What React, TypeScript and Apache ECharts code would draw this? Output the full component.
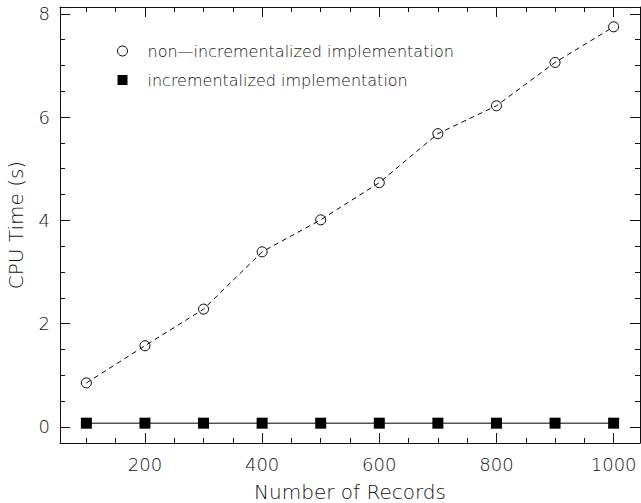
import { useEffect, useRef } from "react";
import * as echarts from "echarts";

// ---- data ----
const records = [100, 200, 300, 400, 500, 600, 700, 800, 900, 1000];
const nonIncremental = [0.85, 1.57, 2.28, 3.39, 4.01, 4.73, 5.68, 6.22, 7.06, 7.75];
const incremental = [0.07, 0.07, 0.07, 0.07, 0.07, 0.07, 0.07, 0.07, 0.07, 0.07];
const seriesNames = ["non—incrementalized implementation", "incrementalized implementation"];
const xMajorTicks = [200, 400, 600, 800, 1000];
const xMinorTicks = [100, 150, 250, 300, 350, 450, 500, 550, 650, 700, 750, 850, 900, 950];
const yMajorTicks = [0, 2, 4, 6, 8];
const yMinorTicks = [0.5, 1, 1.5, 2.5, 3, 3.5, 4.5, 5, 5.5, 6.5, 7, 7.5];
const xTitle = "Number of Records";
const yTitle = "CPU Time (s)";

const X_MIN = 55;
const X_MAX = 1045;
const Y_MIN = -0.314;
const Y_MAX = 8.134;

const FONT = "DejaVu Sans";
const WEIGHT = 200;
const TEXT = "#111";
const LINE = "#111";

export default function App() {
  const ref = useRef<HTMLDivElement>(null);

  useEffect(() => {
    if (!ref.current) return;
    const chart = echarts.init(ref.current, undefined, { renderer: "svg" });

    const xAxisBase = (position: "bottom" | "top", major: boolean, showLine: boolean, labels: boolean) => ({
      type: "value",
      position,
      min: X_MIN,
      max: X_MAX,
      splitLine: { show: false },
      axisLine: { show: showLine, onZero: false, lineStyle: { color: LINE, width: 1 } },
      axisTick: {
        show: true,
        inside: true,
        length: major ? 10 : 5,
        customValues: major ? xMajorTicks : xMinorTicks,
        lineStyle: { color: LINE, width: 1 },
      },
      axisLabel: labels
        ? {
            show: true,
            customValues: xMajorTicks,
            margin: 12,
            fontSize: 18,
            fontFamily: FONT,
            fontWeight: WEIGHT,
            color: TEXT,
            formatter: (v: number) => String(v),
          }
        : { show: false },
      ...(labels
        ? {
            name: xTitle,
            nameLocation: "middle",
            nameGap: 39,
            nameTextStyle: { fontSize: 20, fontFamily: FONT, fontWeight: WEIGHT, color: TEXT },
          }
        : {}),
    });

    const yAxisBase = (position: "left" | "right", major: boolean, showLine: boolean, labels: boolean) => ({
      type: "value",
      position,
      min: Y_MIN,
      max: Y_MAX,
      splitLine: { show: false },
      axisLine: { show: showLine, onZero: false, lineStyle: { color: LINE, width: 1 } },
      axisTick: {
        show: true,
        inside: true,
        length: major ? 10 : 5,
        customValues: major ? yMajorTicks : yMinorTicks,
        lineStyle: { color: LINE, width: 1 },
      },
      axisLabel: labels
        ? {
            show: true,
            customValues: yMajorTicks,
            margin: 10,
            fontSize: 18,
            fontFamily: FONT,
            fontWeight: WEIGHT,
            color: TEXT,
            formatter: (v: number) => String(v),
          }
        : { show: false },
      ...(labels
        ? {
            name: yTitle,
            nameLocation: "middle",
            nameGap: 34,
            nameTextStyle: { fontSize: 20, fontFamily: FONT, fontWeight: WEIGHT, color: TEXT },
          }
        : {}),
    });

    chart.setOption({
      animation: false,
      backgroundColor: "#fff",
      grid: { left: 60, top: 7, right: 1, bottom: 60, containLabel: false, outerBoundsMode: "none" },
      legend: {
        orient: "vertical",
        left: 112,
        top: 38,
        itemWidth: 10,
        itemHeight: 10,
        itemGap: 13,
        selectedMode: false,
        textStyle: {
          fontSize: 16,
          fontFamily: FONT,
          fontWeight: WEIGHT,
          color: TEXT,
          padding: [0, 0, 0, 15],
          lineHeight: 12,
        },
        data: [
          {
            name: seriesNames[0],
            icon: "circle",
            itemStyle: { color: "#fff", borderColor: "#000", borderWidth: 1 },
          },
          { name: seriesNames[1], icon: "rect", itemStyle: { color: "#000", borderWidth: 0 } },
        ],
      },
      xAxis: [
        xAxisBase("bottom", true, true, true),
        xAxisBase("bottom", false, false, false),
        xAxisBase("top", true, true, false),
        xAxisBase("top", false, false, false),
      ],
      yAxis: [
        yAxisBase("left", true, true, true),
        yAxisBase("left", false, false, false),
        yAxisBase("right", true, true, false),
        yAxisBase("right", false, false, false),
      ],
      series: [
        {
          name: seriesNames[0],
          type: "line",
          xAxisIndex: 0,
          yAxisIndex: 0,
          data: records.map((r, i) => [r, nonIncremental[i]]),
          symbol: "circle",
          symbolSize: 10,
          itemStyle: { color: "transparent", borderColor: "#000", borderWidth: 1 },
          lineStyle: { color: "#000", width: 1, type: [5, 4] },
        },
        {
          name: seriesNames[1],
          type: "line",
          xAxisIndex: 0,
          yAxisIndex: 0,
          data: records.map((r, i) => [r, incremental[i]]),
          symbol: "rect",
          symbolSize: 11,
          itemStyle: { color: "#000" },
          lineStyle: { color: "#000", width: 1 },
        },
      ],
    });

    return () => chart.dispose();
  }, []);

  return (
    <div
      ref={ref}
      style={{ position: "fixed", left: 0, top: 0, width: 641, height: 503, background: "#fff" }}
    />
  );
}
